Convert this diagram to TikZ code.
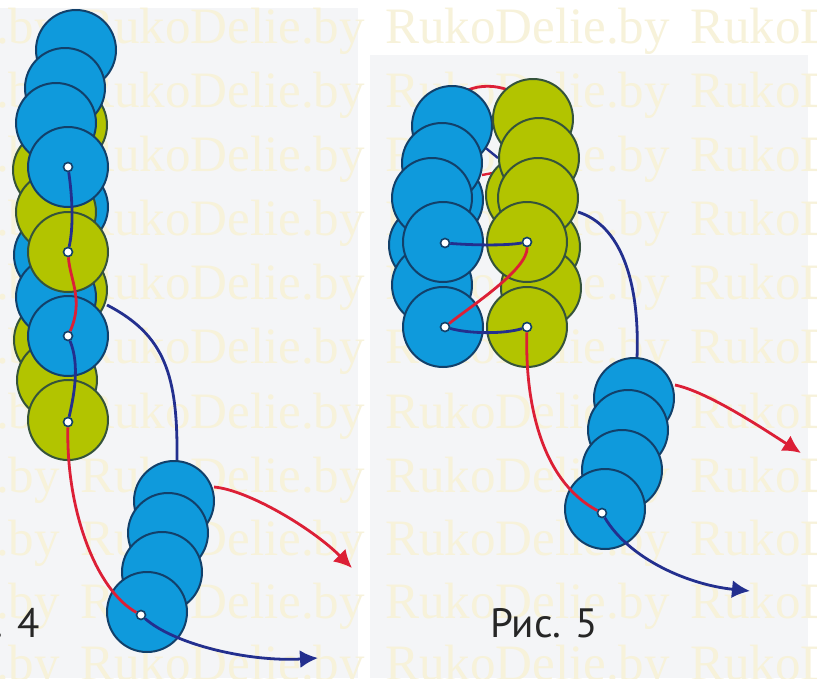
\documentclass[tikz,border=0pt]{standalone}
\usepackage{fontspec}
\setmainfont{Liberation Serif}
\newfontfamily\capfont{PT Sans}
\usetikzlibrary{arrows.meta}
\definecolor{bluebead}{HTML}{0F9ADC}
\definecolor{greenbead}{HTML}{B2C400}
\definecolor{beadline}{HTML}{12406A}
\definecolor{wireblue}{HTML}{232F8E}
\definecolor{wirered}{HTML}{DC1F36}
\definecolor{paper}{HTML}{F4F5F7}
\definecolor{wmark}{HTML}{F7F2DA}
\tikzset{
  bb/.style={circle,draw=beadline,line width=2pt,fill=bluebead,minimum size=80pt,inner sep=0pt},
  gb/.style={circle,draw=beadline!70!greenbead!80!black,line width=2pt,fill=greenbead,minimum size=80pt,inner sep=0pt},
  hole/.style={circle,draw=beadline,line width=1.6pt,fill=white,minimum size=9pt,inner sep=0pt},
  bluewire/.style={draw=wireblue,line width=2.8pt},
  redwire/.style={draw=wirered,line width=2.8pt},
  tipped/.style={-{Latex[length=18pt,width=18pt]}},
  wm/.style={text=wmark,font=\fontsize{51}{51}\selectfont,inner sep=0pt,anchor=base west},
  captext/.style={font=\capfont\fontsize{41}{41}\selectfont,text=black!85,inner sep=0pt,anchor=base west}
}
\begin{document}
\begin{tikzpicture}[x=1pt,y=-1pt]
\useasboundingbox (0,0) rectangle (817,678);
\fill[white] (0,0) rectangle (817,678);
\fill[paper] (0,8) rectangle (358,678);
\fill[paper] (370,55) rectangle (808,678);
% watermark
\foreach \y in {43,107,171,235,299,363,428,492,555,618,680}{
  \foreach \x in {-225,80,385,690}{
    \node[wm] at (\x,\y) {RukoDelie.by};
  }
}
% figure 4: back row
\node[gb] (a1) at (67,125) {};
\node[gb] (a2) at (53,170) {};
\node[bb] (a3) at (68,207) {};
\node[bb] (a4) at (54,255) {};
\node[gb] (a5) at (67,290) {};
\node[gb] (a6) at (54,340) {};
\node[gb] (a7) at (57,380) {};
\node[gb] (a8) at (68,420) {};
\node[bb] (a9) at (56,297) {};
\node[bb] (a10) at (68,336) {};
\node[gb] (a11) at (56,212) {};
\node[gb] (a12) at (68,252) {};
\node[bb] (a13) at (76,50) {};
\node[bb] (a14) at (65,88) {};
\node[bb] (a15) at (56,123) {};
\node[bb] (a16) at (68,167) {};
\coordinate (f4out) at (107,305);
\coordinate (f4in) at (177,461);
\draw[bluewire] (f4out) .. controls (165,335) and (178,375) .. (f4in);
% figure 4: lower stack
\node[bb] (b1) at (174,501) {};
\node[bb] (b2) at (168,533) {};
\node[bb] (b3) at (162,572) {};
\node[bb] (b4) at (147,612) {};
% figure 4: holes
\node[hole] (h1) at (68,167) {};
\node[hole] (h2) at (68,252) {};
\node[hole] (h3) at (68,336) {};
\node[hole] (h4) at (68,422) {};
\node[hole] (h5) at (141,615) {};
\coordinate (r1) at (214,487);
\coordinate (r2) at (352,568);
\coordinate (u1) at (318,658);
\draw[bluewire] (h1) .. controls (72,195) and (74,225) .. (h2);
\draw[redwire] (h2) .. controls (70,280) and (84,300) .. (h3);
\draw[bluewire] (h3) .. controls (80,365) and (74,395) .. (h4);
\draw[redwire] (h4) .. controls (66,510) and (96,590) .. (h5);
\draw[bluewire,tipped] (h5) .. controls (175,645) and (250,662) .. (u1);
\draw[redwire,tipped] (r1) .. controls (248,490) and (312,528) .. (r2);
% figure 5
\coordinate (t1) at (468,90);
\coordinate (t2) at (508,90);
\draw[redwire] (t1) .. controls (480,85) and (495,85) .. (t2);
\coordinate (s1) at (482,145);
\coordinate (s2) at (498,158);
\coordinate (s3) at (482,175);
\coordinate (s4) at (498,172);
\draw[wireblue,line width=2.4pt] (s1) -- (s2);
\draw[wirered,line width=2.4pt] (s3) -- (s4);
\node[bb] (c1) at (443,200) {};
\node[bb] (c2) at (429,245) {};
\node[bb] (c3) at (432,285) {};
\node[bb] (c4) at (452,126) {};
\node[bb] (c5) at (442,163) {};
\node[bb] (c6) at (432,198) {};
\node[bb] (c7) at (443,242) {};
\node[bb] (c8) at (443,327) {};
\node[gb] (d1) at (526,195) {};
\node[gb] (d2) at (540,247) {};
\node[gb] (d3) at (541,288) {};
\node[gb] (d4) at (533,119) {};
\node[gb] (d5) at (539,158) {};
\node[gb] (d6) at (538,198) {};
\node[gb] (d7) at (527,242) {};
\node[gb] (d8) at (527,327) {};
\coordinate (f5out) at (578,212);
\coordinate (f5in) at (637,358);
\draw[bluewire] (f5out) .. controls (620,225) and (640,280) .. (f5in);
\node[bb] (e1) at (634,398) {};
\node[bb] (e2) at (628,430) {};
\node[bb] (e3) at (622,470) {};
\node[bb] (e4) at (605,509) {};
\node[hole] (k1) at (445,243) {};
\node[hole] (k2) at (527,242) {};
\node[hole] (k3) at (445,327) {};
\node[hole] (k4) at (527,327) {};
\node[hole] (k5) at (602,513) {};
\coordinate (r3) at (675,385);
\coordinate (r4) at (801,453);
\coordinate (u2) at (750,591);
\draw[bluewire] (k1) .. controls (470,245) and (505,246) .. (k2);
\draw[redwire] (k2) .. controls (528,270) and (468,308) .. (k3);
\draw[bluewire] (k3) .. controls (470,334) and (505,334) .. (k4);
\draw[redwire] (k4) .. controls (525,400) and (540,480) .. (k5);
\draw[bluewire,tipped] (k5) .. controls (630,560) and (690,585) .. (u2);
\draw[redwire,tipped] (r3) .. controls (708,392) and (762,428) .. (r4);
% captions
\node[captext] (capfour) at (-6,637) {. 4};
\node[captext] (capfive) at (490,637) {Рис. 5};
\end{tikzpicture}
\end{document}
